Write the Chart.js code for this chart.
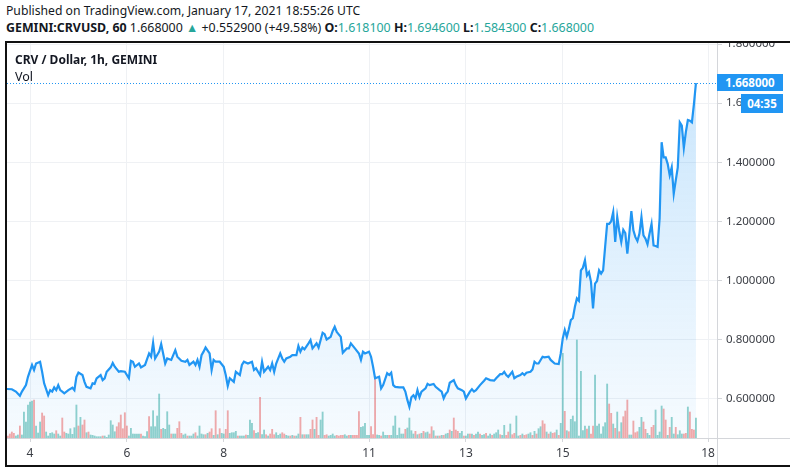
<!DOCTYPE html>
<html><head><meta charset="utf-8">
<script src="https://cdn.jsdelivr.net/npm/chart.js@4.4.1/dist/chart.umd.min.js"></script>
<style>
html,body{margin:0;padding:0;background:#fff;width:790px;height:474px;overflow:hidden;font-family:"Noto Sans",sans-serif;}
.t{position:absolute;white-space:nowrap;color:#131722;line-height:1;}
#h1{left:6px;top:5px;font-size:12.2px;}
#h2{left:6px;top:22px;font-size:12.4px;}
#h2 b{font-weight:700}
.v{color:#26a69a}
#frame{position:absolute;left:5px;top:41px;width:800px;height:422px;border:2px solid #111;}
#wrap{position:absolute;left:7px;top:43px;width:783px;height:422px;}
#leg1{left:15px;top:54px;font-size:12px;font-weight:700}
#leg2{left:15px;top:71px;font-size:12.5px}
.box{position:absolute;background:#2196F3;color:#fff;font-size:11.5px;font-weight:700;text-align:center;line-height:1;}
#pbox{left:717px;top:74px;width:66px;height:17px;line-height:17px;}
#tbox{left:741px;top:94px;width:42px;height:19px;line-height:19px;}
</style></head>
<body>
<div class="t" id="h1">Published on TradingView.com, January 17, 2021 18:55:26 UTC</div>
<div class="t" id="h2"><b>GEMINI:CRVUSD, 60</b> 1.668000 <span class="v">▲</span> +0.552900 (+49.58%) <b>O:</b><span class="v">1.618100</span> <b>H:</b><span class="v">1.694600</span> <b>L:</b><span class="v">1.584300</span> <b>C:</b><span class="v">1.668000</span></div>
<div id="frame"></div>
<div id="wrap"><canvas id="c"></canvas></div>
<div class="t" id="leg1">CRV / Dollar, 1h, GEMINI</div>
<div class="t" id="leg2">Vol</div>
<div class="box" id="pbox"></div>
<div class="box" id="tbox">04:35</div>
<script>
// hours are counted from Jan 4, 2021 00:00 UTC (1h candles)
const dayTickHours = [0, 48, 96, 168, 216, 264, 336];
const dayTickLabels = ['4', '6', '8', '11', '13', '15', '18'];
const priceTicks = [0.6, 0.8, 1.0, 1.2, 1.4, 1.6, 1.8];
const lastClose = 1.668;

// [hour, close]
const priceSamples = [
[-12,0.634],[-9,0.633],[-7,0.625],[-5,0.611],[-4,0.625],[-2,0.647],[-1,0.675],[1,0.715],[2,0.698],[3,0.720],[5,0.726],[6,0.692],[7,0.653],[9,0.613],[10,0.630],[11,0.625],[12,0.639],[13,0.630],[14,0.647],[15,0.630],[16,0.625],[17,0.619],[19,0.630],[21,0.638],[22,0.630],[23,0.675],
[24,0.689],[26,0.681],[27,0.658],[28,0.641],[30,0.636],[31,0.653],[32,0.651],[33,0.670],[35,0.681],[36,0.664],[37,0.670],[38,0.692],[40,0.707],[41,0.722],[42,0.709],[44,0.692],[45,0.694],[47,0.692],
[49,0.670],[50,0.729],[51,0.726],[52,0.709],[54,0.720],[55,0.707],[57,0.715],[59,0.754],[60,0.743],[61,0.790],[62,0.737],[64,0.760],[65,0.786],[67,0.720],[68,0.737],[70,0.732],
[72,0.765],[73,0.743],[75,0.729],[77,0.726],[78,0.732],[79,0.715],[81,0.726],[82,0.715],[83,0.732],[84,0.709],[85,0.748],[86,0.760],[87,0.774],[89,0.754],[90,0.698],[91,0.732],[92,0.726],[94,0.726],
[96,0.709],[97,0.681],[98,0.644],[99,0.670],[101,0.658],[102,0.692],[104,0.681],[105,0.715],[106,0.726],[108,0.720],[110,0.726],[111,0.698],[112,0.704],[113,0.692],[114,0.681],[115,0.726],[116,0.692],[118,0.709],[119,0.698],
[120,0.720],[121,0.692],[122,0.720],[124,0.754],[125,0.737],[126,0.726],[127,0.737],[129,0.743],[130,0.748],[132,0.748],[133,0.779],[134,0.760],[135,0.774],[136,0.768],[138,0.788],[139,0.799],[140,0.771],[142,0.788],[143,0.774],
[145,0.824],[146,0.819],[147,0.801],[149,0.810],[150,0.830],[151,0.844],[152,0.827],[154,0.810],[155,0.756],[157,0.771],[158,0.771],[159,0.788],[161,0.771],[163,0.754],[164,0.732],[165,0.760],[166,0.754],
[168,0.760],[169,0.743],[170,0.709],[171,0.670],[173,0.675],[174,0.636],[175,0.647],[177,0.687],[178,0.681],[179,0.689],[180,0.647],[181,0.641],[183,0.639],[185,0.639],[186,0.625],[187,0.597],[188,0.574],[189,0.606],[190,0.613],[191,0.602],
[192,0.630],[193,0.606],[194,0.625],[196,0.636],[197,0.651],[198,0.647],[200,0.651],[201,0.641],[203,0.630],[204,0.625],[205,0.602],[206,0.617],[207,0.625],[208,0.655],[210,0.664],[211,0.647],[212,0.636],[214,0.630],[215,0.625],
[216,0.602],[218,0.625],[219,0.633],[220,0.625],[221,0.630],[223,0.647],[225,0.662],[226,0.670],[228,0.664],[230,0.662],[231,0.670],[233,0.684],[234,0.684],[235,0.692],[236,0.681],[237,0.675],[239,0.692],
[240,0.670],[241,0.675],[243,0.681],[244,0.687],[245,0.681],[246,0.689],[248,0.692],[249,0.700],[250,0.726],[251,0.720],[252,0.720],[254,0.743],[255,0.741],[257,0.743],[258,0.732],[260,0.720],[262,0.718],[263,0.754],
[264,0.805],[265,0.833],[266,0.810],[267,0.836],[268,0.867],[269,0.873],[270,0.911],[271,0.940],[272,0.932],[273,1.035],[274,1.044],[275,1.069],[276,1.018],[277,1.029],[278,0.996],[279,0.906],[280,0.990],[281,0.999],[282,1.035],[283,1.024],[284,1.035],[285,1.114],[286,1.192],[287,1.192],
[288,1.201],[289,1.232],[290,1.131],[291,1.215],[292,1.168],[293,1.131],[294,1.172],[295,1.161],[296,1.091],[297,1.159],[298,1.235],[299,1.170],[300,1.147],[301,1.134],[302,1.159],[303,1.215],[304,1.153],[305,1.142],[306,1.123],[307,1.159],[308,1.192],[309,1.119],[310,1.117],[311,1.114],
[312,1.210],[313,1.468],[314,1.417],[315,1.417],[316,1.395],[317,1.356],[318,1.383],[319,1.294],[320,1.339],[321,1.383],[322,1.535],[323,1.524],[324,1.449],[325,1.502],[326,1.543],[327,1.541],[328,1.535],[329,1.597],[330,1.668]
];

// hourly volume (thousand CRV), first bar = Jan 3 13:00
const volumeStartHour = -11;
const volumes = [
2,4,6,4.7,2,3,12,3,26,16,33,
36,37,38,12,5,16,25,22,6,2,4.7,5.3,4,7.3,4,2,20,6,4.7,4,9.3,3.7,10.3,33,
12,20.7,13,18,5.3,6,3,2.7,2,1.3,1.3,1.3,2,2,0.7,3,17.3,13,6.3,11.3,15.3,23,9.3,25.3,
12,2,9.7,4,4,4,4,4,2,1.3,6.3,21.3,11.3,27.3,11.3,22,44,8.7,9.7,8.7,26.3,13,4,4,
4,9.7,16.3,4.7,3,4,2,2,2,4,5.3,2,12,4,3.3,3.3,4.7,6,9.3,2.7,27.3,3.3,9.3,4.7,
4,8.7,27.3,4.7,5.3,5.3,6.7,2,2,2,2,3,2.7,18,14.7,7.3,4.7,5.3,40.7,3.3,8,3.3,2,4,
8.7,3.3,5.3,2.7,4,5.3,4,2.7,2,2,2.7,2,2,4,20.7,3.3,3.3,3.3,3.3,8.7,18,8.7,20.7,2.7,
18,26,2.7,3.3,2,2.7,4,2,2.7,2,2.7,2.7,3.3,2,2.7,2.7,2.7,2.7,2.7,26.3,10.7,11.3,14.7,2.7,
2.7,11.3,3.3,58.7,3,2.7,2,6,2.7,2.7,2.7,2.7,12,22,2.7,10,4,4,8.7,10,20,7.3,4,6.7,
3.3,4,4.7,6.7,5.3,6,4,11.3,7.3,2,2,2,2.7,2.7,4,4.7,8,6.7,20,8,6.7,4.7,6.7,2,
2,4,4,4,2.7,4,6,4,2.7,3.3,4.7,2,4,2.7,4,5.3,8,3.3,2.7,12.7,2.7,6,14,3.3,
4.7,22,2,2.7,4,2.7,3.3,4,5.3,2.7,6.7,4,9.3,11.3,17.3,14,6,4,6,4.7,5.3,8,2.7,14.7,
84.7,26.7,7.3,6.3,18.7,22,16.3,98,2,66.7,7.3,12,9,12,4,12,63,12,14,4,11.3,15.3,54,34,
24.7,14,9.7,26,6.3,15.3,21.3,27,38,3,3,17,5.3,6.3,10.7,20.7,16,8.7,4.7,2.7,10.7,12.7,28,2.7,
6,32,29,18,2.7,10.7,20.7,4,10.7,3.3,7.3,4,4,4.7,31,26,8.7,8,20
];
// g = candle closed up, r = closed down (one string per day)
const volumeDirection = [
"rrrrggrgggg",
"ggrgggrrgggggrggrrgggggg",
"rgrrgrggggggrggggggrrrrr",
"rggggggrgggrgggggrggggrg",
"grrrggrgggrggggrgrrgrgrg",
"grrggggrgggrgggrggrggrgr",
"rrgggrrggrgrggrgrggrrgrr",
"ggrrggggrrrrggrgrrrrgggg",
"grrrggrgggrgggggggrggggr",
"grgrggrrgrgrgrggrgrrrggr",
"ggrgrggrggrggrgggrggrrgr",
"rggrgrrggrgrggrrgrgrrgrg",
"grgrggggggggrgrrgggggggr",
"rgrgrgrrrggrrrggrrggrrgg",
"ggrrgrggrgggrrgrrrg"
];

const dirs = volumeDirection.join('');
const volData = volumes.map((v, i) => ({x: volumeStartHour + i, y: v}));
const volColors = volumes.map((v, i) => dirs[i] === 'g' ? 'rgba(38,166,154,0.5)' : 'rgba(239,83,80,0.5)');
const priceData = priceSamples.map(([h, p]) => ({x: h, y: p}));

document.getElementById('pbox').textContent = lastClose.toFixed(6);

const FONT = '"Noto Sans", sans-serif';
const PX_PER_HOUR = 2.018;
const X_MIN = -23 / PX_PER_HOUR;
const X_MAX = X_MIN + 710 / PX_PER_HOUR;
const Y_MIN = 0.6 - 39 / 295.83;
const Y_MAX = 1.8 + 1 / 295.83;

const areaFill = (ctx) => {
  const {chart} = ctx;
  const a = chart.chartArea;
  if (!a) return 'rgba(33,150,243,0.1)';
  const g = chart.ctx.createLinearGradient(0, a.top, 0, a.bottom);
  g.addColorStop(0, 'rgba(33,150,243,0.26)');
  g.addColorStop(1, 'rgba(33,150,243,0.04)');
  return g;
};

const frameLines = {
  id: 'frameLines',
  beforeDatasetsDraw(chart) {
    const {ctx, chartArea: a} = chart;
    const y = Math.round(chart.scales.y.getPixelForValue(lastClose)) + 0.5;
    ctx.save();
    ctx.setLineDash([1, 2]);
    ctx.strokeStyle = '#2196F3';
    ctx.lineWidth = 1;
    ctx.beginPath(); ctx.moveTo(a.left, y); ctx.lineTo(a.right, y); ctx.stroke();
    ctx.restore();
  },
  afterDraw(chart) {
    const {ctx, chartArea: a, width, height} = chart;
    ctx.save();
    ctx.strokeStyle = '#d4d6da';
    ctx.lineWidth = 1;
    ctx.beginPath();
    ctx.moveTo(Math.round(a.right) + 0.5, 0); ctx.lineTo(Math.round(a.right) + 0.5, height);
    ctx.moveTo(0, Math.round(a.bottom) + 0.5); ctx.lineTo(width, Math.round(a.bottom) + 0.5);
    ctx.stroke();
    ctx.restore();
  }
};

new Chart(document.getElementById('c'), {
  type: 'line',
  data: {
    datasets: [
      {type: 'line', data: priceData, borderColor: '#2196F3', borderWidth: 2.2, pointRadius: 0,
       tension: 0, fill: 'start', backgroundColor: areaFill, order: 1, yAxisID: 'y'},
      {type: 'bar', data: volData, backgroundColor: volColors, barThickness: 1.2, order: 2, yAxisID: 'vol'}
    ]
  },
  options: {
    animation: false, responsive: true, maintainAspectRatio: false,
    layout: {padding: 0},
    plugins: {legend: {display: false}, tooltip: {enabled: false}},
    scales: {
      x: {
        type: 'linear', min: X_MIN, max: X_MAX, offset: false,
        grid: {color: '#eff1f4', tickLength: 4, tickColor: '#d4d6da', offset: false},
        border: {display: false},
        ticks: {font: {family: FONT, size: 12}, color: '#3b3e45', padding: 4, maxRotation: 0,
                callback: (v, i) => dayTickLabels[i]},
        afterBuildTicks: (s) => { s.ticks = dayTickHours.map(v => ({value: v})); },
        afterFit: (s) => { s.height = 27; s.paddingLeft = 0; s.paddingRight = 0; }
      },
      y: {
        position: 'right', min: Y_MIN, max: Y_MAX,
        grid: {color: '#eff1f4', tickLength: 5, tickColor: '#d4d6da'},
        border: {display: false},
        ticks: {font: {family: FONT, size: 11.5}, color: '#3b3e45', padding: 4,
                callback: (v) => Number(v).toFixed(6)},
        afterBuildTicks: (s) => { s.ticks = priceTicks.map(v => ({value: v})); },
        afterFit: (s) => { s.width = 73; s.paddingTop = 0; s.paddingBottom = 0; }
      },
      vol: {display: false, min: 0, max: 395}
    }
  },
  plugins: [frameLines]
});
</script>
</body></html>
